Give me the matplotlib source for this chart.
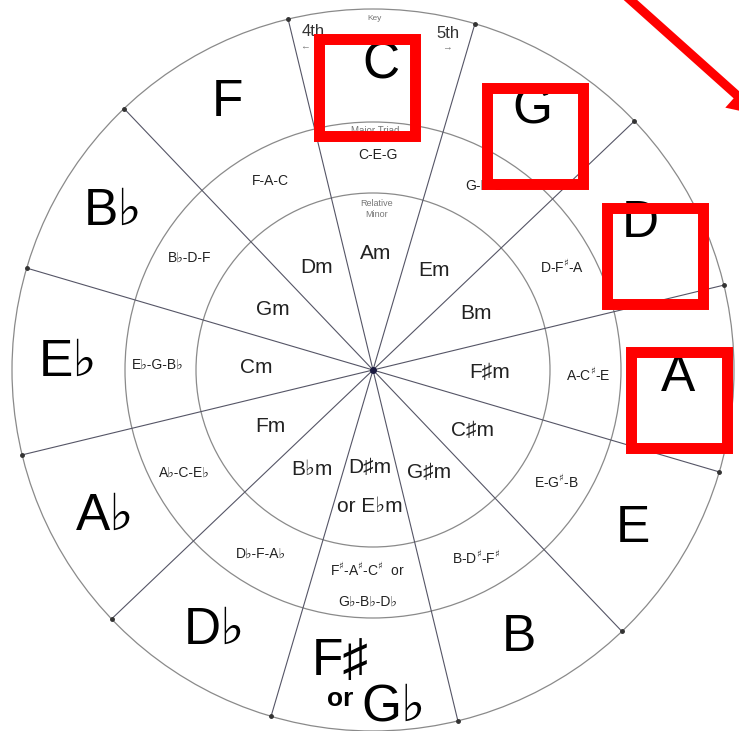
import numpy as np
import matplotlib.pyplot as plt
from matplotlib.patches import Circle, Rectangle, FancyArrow

plt.rcParams['font.family'] = ['Liberation Sans', 'DejaVu Sans']

# circle of fifths, clockwise from the top
keys = ['C', 'G', 'D', 'A', 'E', 'B', 'F♯', 'D♭', 'A♭', 'E♭', 'B♭', 'F']
triads = ['C-E-G', 'G-B-D', 'D-F$^{♯}$-A', 'A-C$^{♯}$-E', 'E-G$^{♯}$-B',
          'B-D$^{♯}$-F$^{♯}$', 'F$^{♯}$-A$^{♯}$-C$^{♯}$  or\nG♭-B♭-D♭',
          'D♭-F-A♭', 'A♭-C-E♭', 'E♭-G-B♭', 'B♭-D-F', 'F-A-C']
minors = ['Am', 'Em', 'Bm', 'F♯m', 'C♯m', 'G♯m', 'D♯m\nor E♭m', 'B♭m',
          'Fm', 'Cm', 'Gm', 'Dm']

# red highlight boxes in image pixels (left, top, right, bottom)
boxes = [(318.5, 38.5, 414.5, 135.5), (486.5, 87.5, 582.5, 183.5),
         (606.5, 207.5, 702.5, 303.5), (630.5, 351.5, 726.5, 447.5)]

cx, cy = 373, 370
R_out, R_mid, R_in = 361, 248, 177
rot = -1.4

fig = plt.figure(figsize=(7.39, 7.31), dpi=100)
ax = fig.add_axes([0, 0, 1, 1])
ax.set_xlim(-cx, 739 - cx)
ax.set_ylim(-(731 - cy), cy)
ax.set_aspect('equal')
ax.axis('off')


def px(x, y):
    return x - cx, cy - y


for r in (R_out, R_mid, R_in):
    ax.add_patch(Circle((0, 0), r, fill=False, ec='#8a8a8a', lw=0.9))

for k in range(12):
    a = np.radians(90 + 15 - 30 * k + rot)
    ax.plot([0, R_out * np.cos(a)], [0, R_out * np.sin(a)], color='#555566', lw=0.8)
    ax.plot(R_out * np.cos(a), R_out * np.sin(a), 'o', color='#333333', ms=2.5)
ax.plot(0, 0, 'o', color='#1a1a40', ms=4)

for k in range(12):
    a = np.radians(90 - 30 * k + rot)
    c, s = np.cos(a), np.sin(a)
    if keys[k] == 'F♯':
        x0, y0 = 305 * c, 305 * s
        ax.text(x0 - 25, y0 + 13, 'F♯', fontsize=37, ha='center', va='center')
        ax.text(x0 - 25, y0 - 24, 'or', fontsize=19, fontweight='bold', ha='center', va='center')
        ax.text(x0 + 28, y0 - 32, 'G♭', fontsize=37, ha='center', va='center')
    else:
        ax.text(305 * c, 305 * s, keys[k], fontsize=37, ha='center', va='center')
    ax.text(215 * c, 215 * s, triads[k], fontsize=10, ha='center', va='center',
            linespacing=2.4, color='#222222')
    ax.text(117 * c, 117 * s, minors[k], fontsize=15, ha='center', va='center',
            linespacing=2.3, color='#222222')

gray = '#777777'
ax.text(*px(375, 18), 'Key', fontsize=6, color=gray, ha='center', va='center')
ax.text(*px(313, 32), '4th', fontsize=12, color='#333333', ha='center', va='center')
ax.text(*px(448, 33), '5th', fontsize=12, color='#333333', ha='center', va='center')
ax.text(*px(305, 46), '←', fontsize=7, color=gray, ha='center', va='center')
ax.text(*px(447, 47), '→', fontsize=7, color=gray, ha='center', va='center')
ax.text(*px(375, 131), 'Major Triad', fontsize=7, color=gray, ha='center', va='center')
ax.text(*px(377, 209), 'Relative\nMinor', fontsize=6.5, color=gray, ha='center', va='center')

for l, t, r, b in boxes:
    x0, y0 = px(l, b)
    ax.add_patch(Rectangle((x0, y0), r - l, b - t, fill=False, ec='red',
                           lw=7.9, joinstyle='miter', zorder=5))

x0, y0 = px(626, -4)
ax.add_patch(FancyArrow(x0, y0, 133, -119, width=9, head_width=34, head_length=30,
                        length_includes_head=True, color='red', lw=0,
                        clip_on=False, zorder=6))

fig.savefig('out.png', dpi=100)
